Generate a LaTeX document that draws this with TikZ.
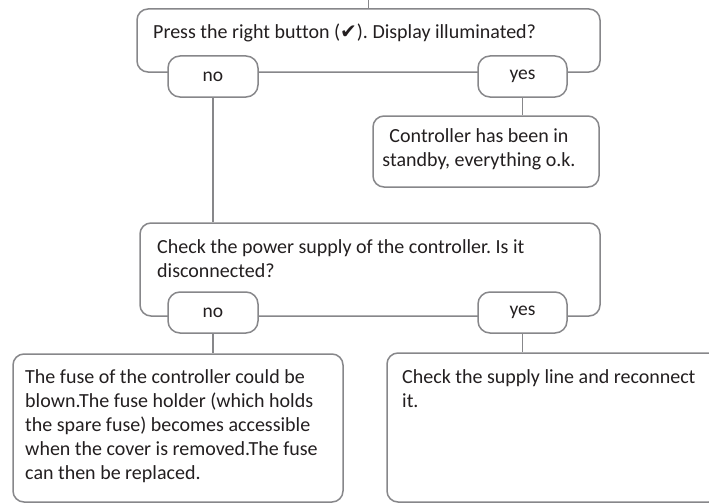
\documentclass[tikz,border=0pt]{standalone}
\usepackage{fontspec}
\setmainfont{Carlito}[Ligatures=NoCommon]
\newfontfamily\symfont{DejaVu Sans}
\usetikzlibrary{positioning}
\definecolor{frame}{HTML}{87878A}
\definecolor{ink}{HTML}{231F20}
\tikzset{
  box/.style    ={draw=frame,line width=1.5pt,rounded corners=11pt,fill=white,
                  inner sep=0pt},
  answer/.style ={box,rounded corners=12pt,minimum width=90pt,minimum height=41pt,
                  text=ink,font=\fontsize{19.5}{22}\selectfont},
  txt/.style    ={inner sep=0pt,align=left,text=ink,anchor=north west,
                  font=\fontsize{20}{24}\selectfont\frenchspacing},
  link/.style   ={draw=frame,line width=1.5pt}
}

\begin{document}
\begin{tikzpicture}[x=1pt,y=-1pt]
  \useasboundingbox (0,0) rectangle (709,503);
  \clip (0,0) rectangle (709,503);
  % first question
  \coordinate (in) at (368.5,0);
  \node[box,minimum width=463pt,minimum height=63pt] (q1) at (368.5,40.5) {};
  \node[txt] (q1t) at (153,24) {Press the right button ({\symfont\char"2714}). Display illuminated?};
  \node[answer] (no1) at (213,76.5) {no};
  \node[answer,minimum width=89pt] (yes1) at (522.5,76.5) {yes};
  \node[box,minimum width=226pt,minimum height=71pt] (ok) at (486,151.5) {};
  \node[txt,align=center,anchor=north] (okt) at (479,128) {Controller has been in\\standby, everything o.k.};
  % second question
  \node[box,minimum width=460pt,minimum height=93pt] (q2) at (370,269.5) {};
  \node[txt] (q2t) at (157,239) {Check the power supply of the controller. Is it\\disconnected?};
  \node[answer] (no2) at (213,312.5) {no};
  \node[answer,minimum width=89pt] (yes2) at (522.5,312.5) {yes};
  \node[box,minimum width=330pt,minimum height=148pt] (fuse) at (178,428) {};
  \node[txt] (fuset) at (25,369) {The fuse of the controller could be\\blown.The fuse holder (which holds\\the spare fuse) becomes accessible\\when the cover is removed.The fuse\\can then be replaced.};
  \node[box,minimum width=333pt,minimum height=149pt] (line) at (553.5,427.5) {};
  \node[txt] (linet) at (402,369) {Check the supply line and reconnect\\it.};
  % connectors
  \draw[link] (in) -- (q1.north);
  \draw[link] (no1.south) -- (no1.south |- q2.north);
  \draw[link] (yes1.south) -- (yes1.south |- ok.north);
  \draw[link] (no2.south) -- (no2.south |- fuse.north);
  \draw[link] (yes2.south) -- (yes2.south |- line.north);
\end{tikzpicture}
\end{document}
